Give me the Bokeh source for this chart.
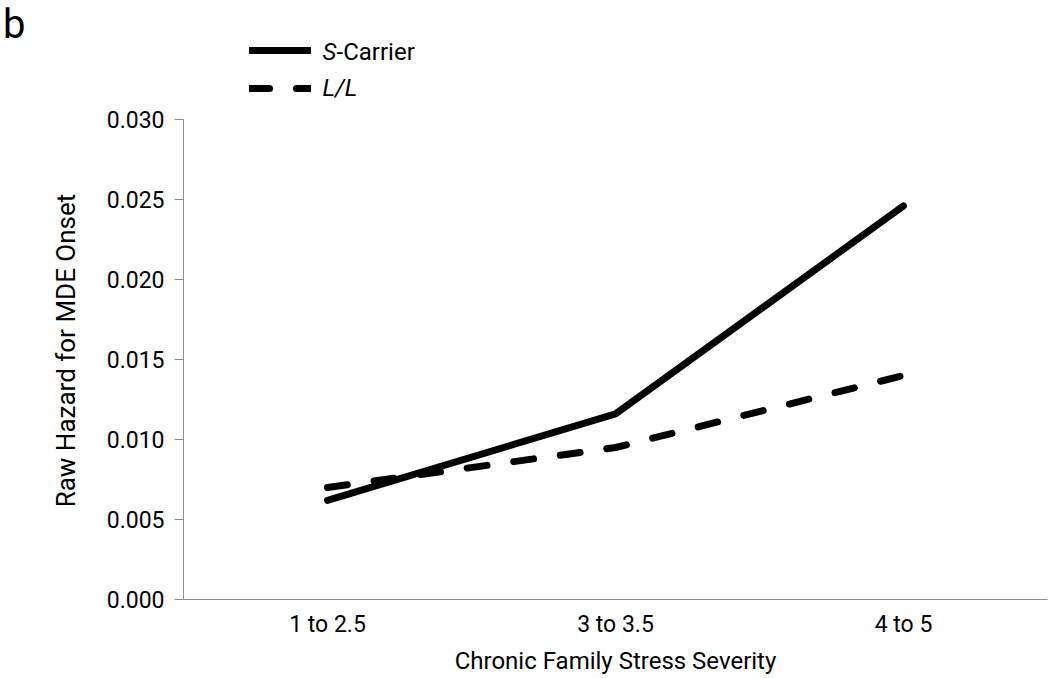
from bokeh.plotting import figure
from bokeh.models import (FactorRange, Range1d, FixedTicker, NumeralTickFormatter,
                          Legend, LegendItem, Label, LinearAxis, CustomJSTickFormatter)
from bokeh.embed import file_html
from bokeh.resources import INLINE

# ---- data ----
categories = ["1 to 2.5", "3 to 3.5", "4 to 5"]
s_carrier = [0.0062, 0.0116, 0.0246]
l_l = [0.0070, 0.0095, 0.0140]
y_ticks = [0.000, 0.005, 0.010, 0.015, 0.020, 0.025, 0.030]
y_title = "Raw Hazard for MDE Onset"
x_title = "Chronic Family Stress Severity"
panel_letter = "b"

FONT = "Roboto"
AXIS_GRAY = "#8f8f8f"

# frame spans the full height so the legend above the 0.030 tick lies inside it
PX = 0.030 / 480          # data units per pixel
Y_TOP = 599 * PX

p = figure(x_range=FactorRange(factors=categories, range_padding=0),
           y_range=Range1d(0, Y_TOP),
           width=1050, height=678,
           output_backend="svg", toolbar_location=None,
           min_border_left=182, min_border_right=3,
           min_border_top=0, min_border_bottom=79)

p.outline_line_color = None
p.xgrid.grid_line_color = None
p.ygrid.grid_line_color = None
p.background_fill_color = "white"

# lines
r1 = p.line(categories, s_carrier, line_width=7, line_color="black",
            line_cap="round", line_join="round")
r2 = p.line(categories, l_l, line_width=7, line_color="black",
            line_dash="20 27", line_cap="round", line_join="round")

# y axis
ya = p.yaxis[0]
ya.ticker = FixedTicker(ticks=y_ticks)
ya.formatter = NumeralTickFormatter(format="0.000")
ya.bounds = (0, 0.030)
ya.axis_line_color = AXIS_GRAY
ya.major_tick_line_color = AXIS_GRAY
ya.major_tick_in = 0
ya.major_tick_out = 9
ya.minor_tick_line_color = None
ya.major_label_standoff = 10
ya.major_label_text_font = FONT
ya.major_label_text_font_size = "23px"
ya.major_label_text_color = "black"

# y-axis title, centred on the 0..0.030 span (a lone rotated tick label)
ta = LinearAxis(ticker=FixedTicker(ticks=[0.015 + 9 * PX]),
                formatter=CustomJSTickFormatter(code="return %r" % y_title),
                axis_line_color=None, major_tick_line_color=None,
                minor_tick_line_color=None, major_tick_out=0, major_tick_in=0,
                major_label_standoff=23, major_label_orientation="vertical",
                major_label_text_font=FONT, major_label_text_font_size="26px",
                major_label_text_color="black")
p.add_layout(ta, "left")

# panel letter as a lone tick label of an invisible outer axis
ba = LinearAxis(ticker=FixedTicker(ticks=[Y_TOP - 24 * PX]),
                formatter=CustomJSTickFormatter(code="return %r" % panel_letter),
                axis_line_color=None, major_tick_line_color=None,
                minor_tick_line_color=None, major_tick_out=0, major_tick_in=0,
                major_label_standoff=22,
                major_label_text_font=FONT, major_label_text_font_size="40px",
                major_label_text_color="black")
p.add_layout(ba, "left")

# x axis
xa = p.xaxis[0]
xa.axis_label = x_title
xa.axis_line_color = AXIS_GRAY
xa.major_tick_line_color = None
xa.minor_tick_line_color = None
xa.major_tick_in = 0
xa.major_tick_out = 0
xa.major_label_standoff = 11
xa.axis_label_standoff = 6
xa.major_label_text_font = FONT
xa.major_label_text_font_size = "23px"
xa.major_label_text_color = "black"
xa.axis_label_text_font = FONT
xa.axis_label_text_font_size = "24px"
xa.axis_label_text_font_style = "normal"
xa.axis_label_text_color = "black"

# legend (glyphs only; the text is drawn as labels to allow the italic S)
legend = Legend(items=[LegendItem(label=" ", renderers=[r1]),
                       LegendItem(label=" ", renderers=[r2])],
                location=(66, 496), orientation="vertical",
                glyph_width=62, glyph_height=30, spacing=8,
                padding=0, margin=0, label_standoff=0, label_width=0,
                label_height=30, label_text_font_size="1px",
                border_line_color=None, background_fill_alpha=0)
p.add_layout(legend)

lab_kw = dict(x_units="screen", y_units="screen", text_font=FONT,
              text_font_size="24px", text_color="black", text_baseline="middle")
p.add_layout(Label(x=139, y=548, text="S", text_font_style="italic", **lab_kw))
p.add_layout(Label(x=153, y=548, text="-Carrier", **lab_kw))
p.add_layout(Label(x=139, y=512, text="L/L", text_font_style="italic", **lab_kw))

open("out.html", "w").write(file_html(p, INLINE))
